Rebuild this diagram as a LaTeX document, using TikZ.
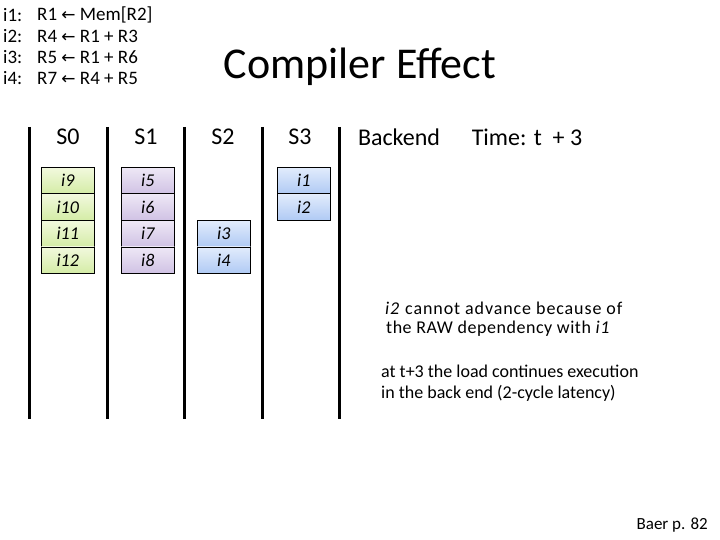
\documentclass[tikz,border=0pt]{standalone}
\usepackage{fontspec}
\setmainfont{Carlito}
\newfontfamily\symf{DejaVu Sans}
\definecolor{gtop}{RGB}{242,249,222}
\definecolor{gbot}{RGB}{212,236,166}
\definecolor{ptop}{RGB}{238,232,246}
\definecolor{pbot}{RGB}{208,194,228}
\definecolor{btop}{RGB}{226,236,252}
\definecolor{bbot}{RGB}{176,202,244}
\begin{document}
\begin{tikzpicture}[x=1pt,y=-1pt,
  sep/.style={line width=3pt,black},
  cell/.style={draw=black,line width=0.6pt,minimum width=53pt,minimum height=26.5pt,inner sep=0pt,anchor=north west,font=\fontsize{18}{20}\selectfont\itshape},
  gcell/.style={cell,top color=gtop,bottom color=gbot},
  pcell/.style={cell,top color=ptop,bottom color=pbot},
  bcell/.style={cell,top color=btop,bottom color=bbot},
  hdr/.style={font=\fontsize{24}{28}\selectfont},
  code/.style={anchor=west,font=\fontsize{19}{21}\selectfont,inner sep=0pt},
  note/.style={anchor=west,font=\fontsize{18}{20}\selectfont,inner sep=0pt}]
\useasboundingbox (0,0) rectangle (720,540);
% code
\node[code] (l1) at (3,15) {i1:};
\node[code] (l2) at (3,36) {i2:};
\node[code] (l3) at (3,57) {i3:};
\node[code] (l4) at (3,78) {i4:};
\node[code] (c1) at (37,15) {R1 {\symf\fontsize{17}{19}\selectfont←} Mem[R2]};
\node[code] (c2) at (37,36) {R4 {\symf\fontsize{17}{19}\selectfont←} R1 + R3};
\node[code] (c3) at (37,57) {R5 {\symf\fontsize{17}{19}\selectfont←} R1 + R6};
\node[code] (c4) at (37,78) {R7 {\symf\fontsize{17}{19}\selectfont←} R4 + R5};
% title
\node[font=\fontsize{44}{50}\selectfont] (title) at (360,67) {Compiler Effect};
% separators
\foreach \x/\n in {29.5/a,107.5/b,184.5/c,262.5/d,339.5/e}{
  \coordinate (t\n) at (\x,127);
  \coordinate (b\n) at (\x,419);
  \draw[sep] (t\n) -- (b\n);
}
% headers
\node[hdr] (s0) at (68,137) {S0};
\node[hdr] (s1) at (146,137) {S1};
\node[hdr] (s2) at (223,137) {S2};
\node[hdr] (s3) at (300,137) {S3};
\node[hdr] (be) at (399,137) {Backend};
\node[hdr] (tm) at (527,137) {Time: t\ \ + 3};
% boxes
\node[gcell] (i9) at (41,167) {i9};
\node[gcell] (i10) at (41,193.5) {i10};
\node[gcell] (i11) at (41,220) {i11};
\node[gcell] (i12) at (41,246.5) {i12};
\node[pcell] (i5) at (121,167) {i5};
\node[pcell] (i6) at (121,193.5) {i6};
\node[pcell] (i7) at (121,220) {i7};
\node[pcell] (i8) at (121,246.5) {i8};
\node[bcell] (i3) at (197,220) {i3};
\node[bcell] (i4) at (197,246.5) {i4};
\node[bcell] (i1) at (277,167) {i1};
\node[bcell] (i2) at (277,193.5) {i2};
% notes
\node[note] (n1) at (385,308) {\addfontfeature{LetterSpace=5}\textit{i2} cannot advance because of};
\node[note] (n2) at (386,329) {\addfontfeature{LetterSpace=3}the RAW dependency with \textit{i1}};
\node[note] (n3) at (381,371) {at t+3 the load continues execution};
\node[note] (n4) at (381,393) {in the back end (2-cycle latency)};
\node[anchor=east,font=\fontsize{17}{19}\selectfont,inner sep=0pt] (ref) at (708,525) {Baer p. 82};
\end{tikzpicture}
\end{document}
